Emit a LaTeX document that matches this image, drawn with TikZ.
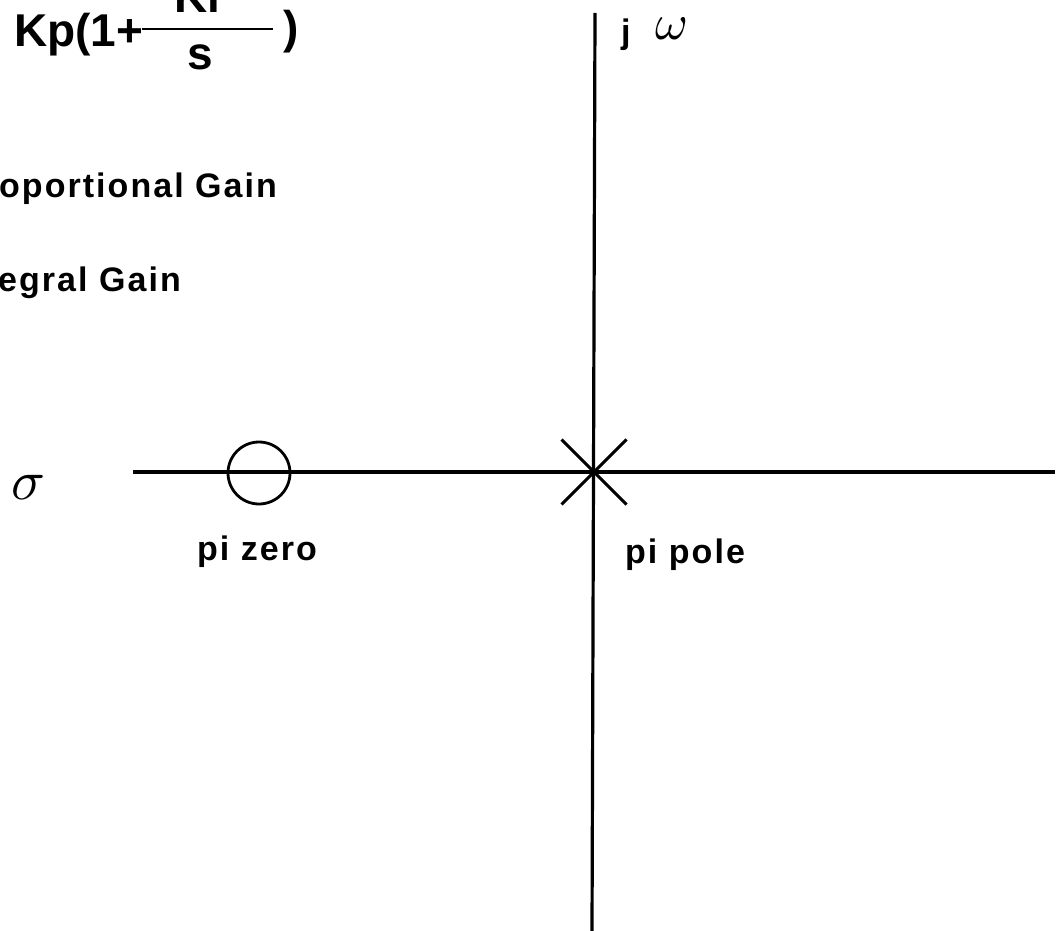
\documentclass[tikz,border=0pt]{standalone}
\usepackage{fontspec}
\setmainfont{Liberation Sans}
\newfontfamily\labfont[LetterSpace=6]{Liberation Sans}
\usetikzlibrary{shapes.misc}
\tikzset{
  axis/.style={line width=3.2pt, black},
  lab/.style={inner sep=0pt, font=\labfont\bfseries\fontsize{34}{40}\selectfont},
  formula/.style={inner sep=0pt, font=\bfseries\fontsize{46}{52}\selectfont},
  greek/.style={inner sep=0pt}
}
\begin{document}
\begin{tikzpicture}[x=1pt,y=-1pt]
\useasboundingbox (0,0) rectangle (1063,931);
\clip (0,0) rectangle (1063,931);
% axes
\coordinate (vtop) at (595,13);
\coordinate (vbot) at (592,931);
\coordinate (hleft) at (133,472);
\coordinate (hright) at (1055,472);
\draw[axis] (vtop) -- (vbot);
\draw[axis] (hleft) -- (hright);
% zero and pole
\node[circle, draw, line width=2.8pt, minimum size=62pt, inner sep=0pt] (zero) at (259,473) {};
\node[cross out, draw, line width=3pt, minimum size=62pt, inner sep=0pt] (pole) at (594,472) {};
% labels
\node[lab, anchor=base west] (zerolab) at (197,560) {pi zero};
\node[lab, anchor=base west] (polelab) at (625,563) {pi pole};
\node[lab, anchor=base west] (kp) at (-1,197) {oportional Gain};
\node[lab, anchor=base west] (ki) at (-2,291) {egral Gain};
\node[lab, anchor=base west] (j) at (621,44) {j};
\node[greek, scale=5] (omega) at (672,29) {$\omega$};
\node[greek, scale=5.6] (sigma) at (29,487) {$\sigma$};
% formula
\node[formula, anchor=base west] (kpf) at (14,47) {Kp(1+};
\coordinate (barl) at (142,29);
\coordinate (barr) at (273,29);
\draw[line width=2.4pt] (barl) -- (barr);
\node[formula, anchor=base] (num) at (197,13) {Ki};
\node[formula, anchor=base] (den) at (200,70) {s};
\node[formula, anchor=base west] (rpar) at (283,44) {)};
\end{tikzpicture}
\end{document}
